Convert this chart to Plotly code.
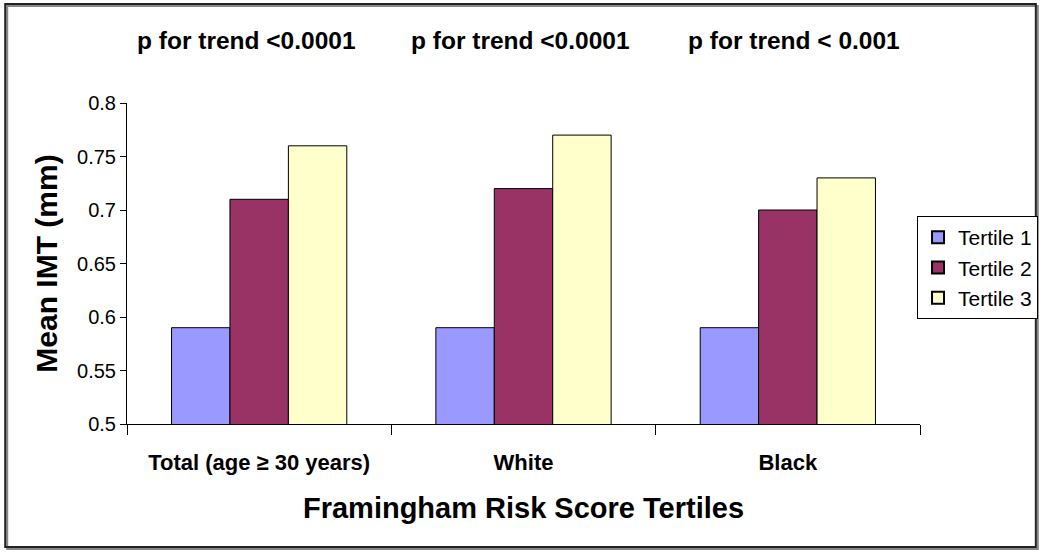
import plotly.graph_objects as go

categories = ["Total (age \u2265 30 years)", "White", "Black"]
tertile1 = [0.59, 0.59, 0.59]
tertile2 = [0.71, 0.72, 0.70]
tertile3 = [0.76, 0.77, 0.73]
series_names = ["Tertile 1", "Tertile 2", "Tertile 3"]
series_colors = ["#9999FF", "#993366", "#FFFFCC"]
p_labels = ["p for trend <0.0001", "p for trend <0.0001", "p for trend < 0.001"]
p_label_shifts = [-13, -3, 6]
y_ticks = [0.5, 0.55, 0.6, 0.65, 0.7, 0.75, 0.8]
y_ticklabels = ["0.5", "0.55", "0.6", "0.65", "0.7", "0.75", "0.8"]

L, R, T, B = 127, 928, 103, 424
W, H = 1050, 552
FONT = "Liberation Sans, Arial, sans-serif"

fig = go.Figure()
for name, vals, col in zip(series_names, [tertile1, tertile2, tertile3], series_colors):
    fig.add_trace(go.Bar(x=categories, y=vals, name=name,
                         marker=dict(color=col, line=dict(color="black", width=1))))

def px2x(px):
    return (px - L) / (R - L)

def py2y(py):
    return (B - py) / (B - T)

annotations = []
for cat, lab, sh in zip(categories, p_labels, p_label_shifts):
    annotations.append(dict(x=cat, xref="x", xshift=sh, y=py2y(41), yref="paper",
                            text="<b>" + lab + "</b>",
                            showarrow=False, font=dict(family=FONT, size=24.5, color="black"),
                            xanchor="center", yanchor="middle"))

fig.update_layout(
    width=W, height=H,
    margin=dict(l=L, r=W - R, t=T, b=H - B),
    paper_bgcolor="white", plot_bgcolor="white",
    barmode="group", bargap=0.337, bargroupgap=0,
    font=dict(family=FONT, color="black"),
    xaxis=dict(showline=True, linecolor="black", linewidth=1, ticks="outside",
               tickson="boundaries", ticklen=10, tickcolor="black",
               tickfont=dict(size=22, family=FONT),
               tickvals=categories,
               ticktext=["<b>" + c + "</b>" for c in categories],
               ticklabelstandoff=19,
               title=dict(text="<b>Framingham Risk Score Tertiles</b>",
                          font=dict(size=29, family=FONT), standoff=23),
               showgrid=False),
    yaxis=dict(range=[0.5, 0.8], tickvals=y_ticks, ticktext=y_ticklabels,
               showline=True, linecolor="black", linewidth=1, ticks="outside",
               ticklen=6, tickcolor="black", showgrid=False, zeroline=False,
               tickfont=dict(size=20, family=FONT),
               title=dict(text="<b>Mean IMT (mm)</b>",
                          font=dict(size=30, family=FONT), standoff=10)),
    legend=dict(x=px2x(925), y=py2y(216), xanchor="left", yanchor="top",
                bordercolor="black", borderwidth=1, bgcolor="white",
                font=dict(size=21, family=FONT),
                itemsizing="constant"),
    annotations=annotations,
    shapes=[dict(type="rect", xref="paper", yref="paper",
                 x0=px2x(6), x1=px2x(1047), y0=py2y(549), y1=py2y(6),
                 line=dict(color="#888888", width=2)),
            dict(type="rect", xref="paper", yref="paper",
                 x0=px2x(4), x1=px2x(1045), y0=py2y(547), y1=py2y(4),
                 line=dict(color="#222222", width=2))],
)

fig.write_html("out.html", config={"displayModeBar": False},
               post_script="document.body.style.margin='0';document.body.style.overflow='hidden';")
